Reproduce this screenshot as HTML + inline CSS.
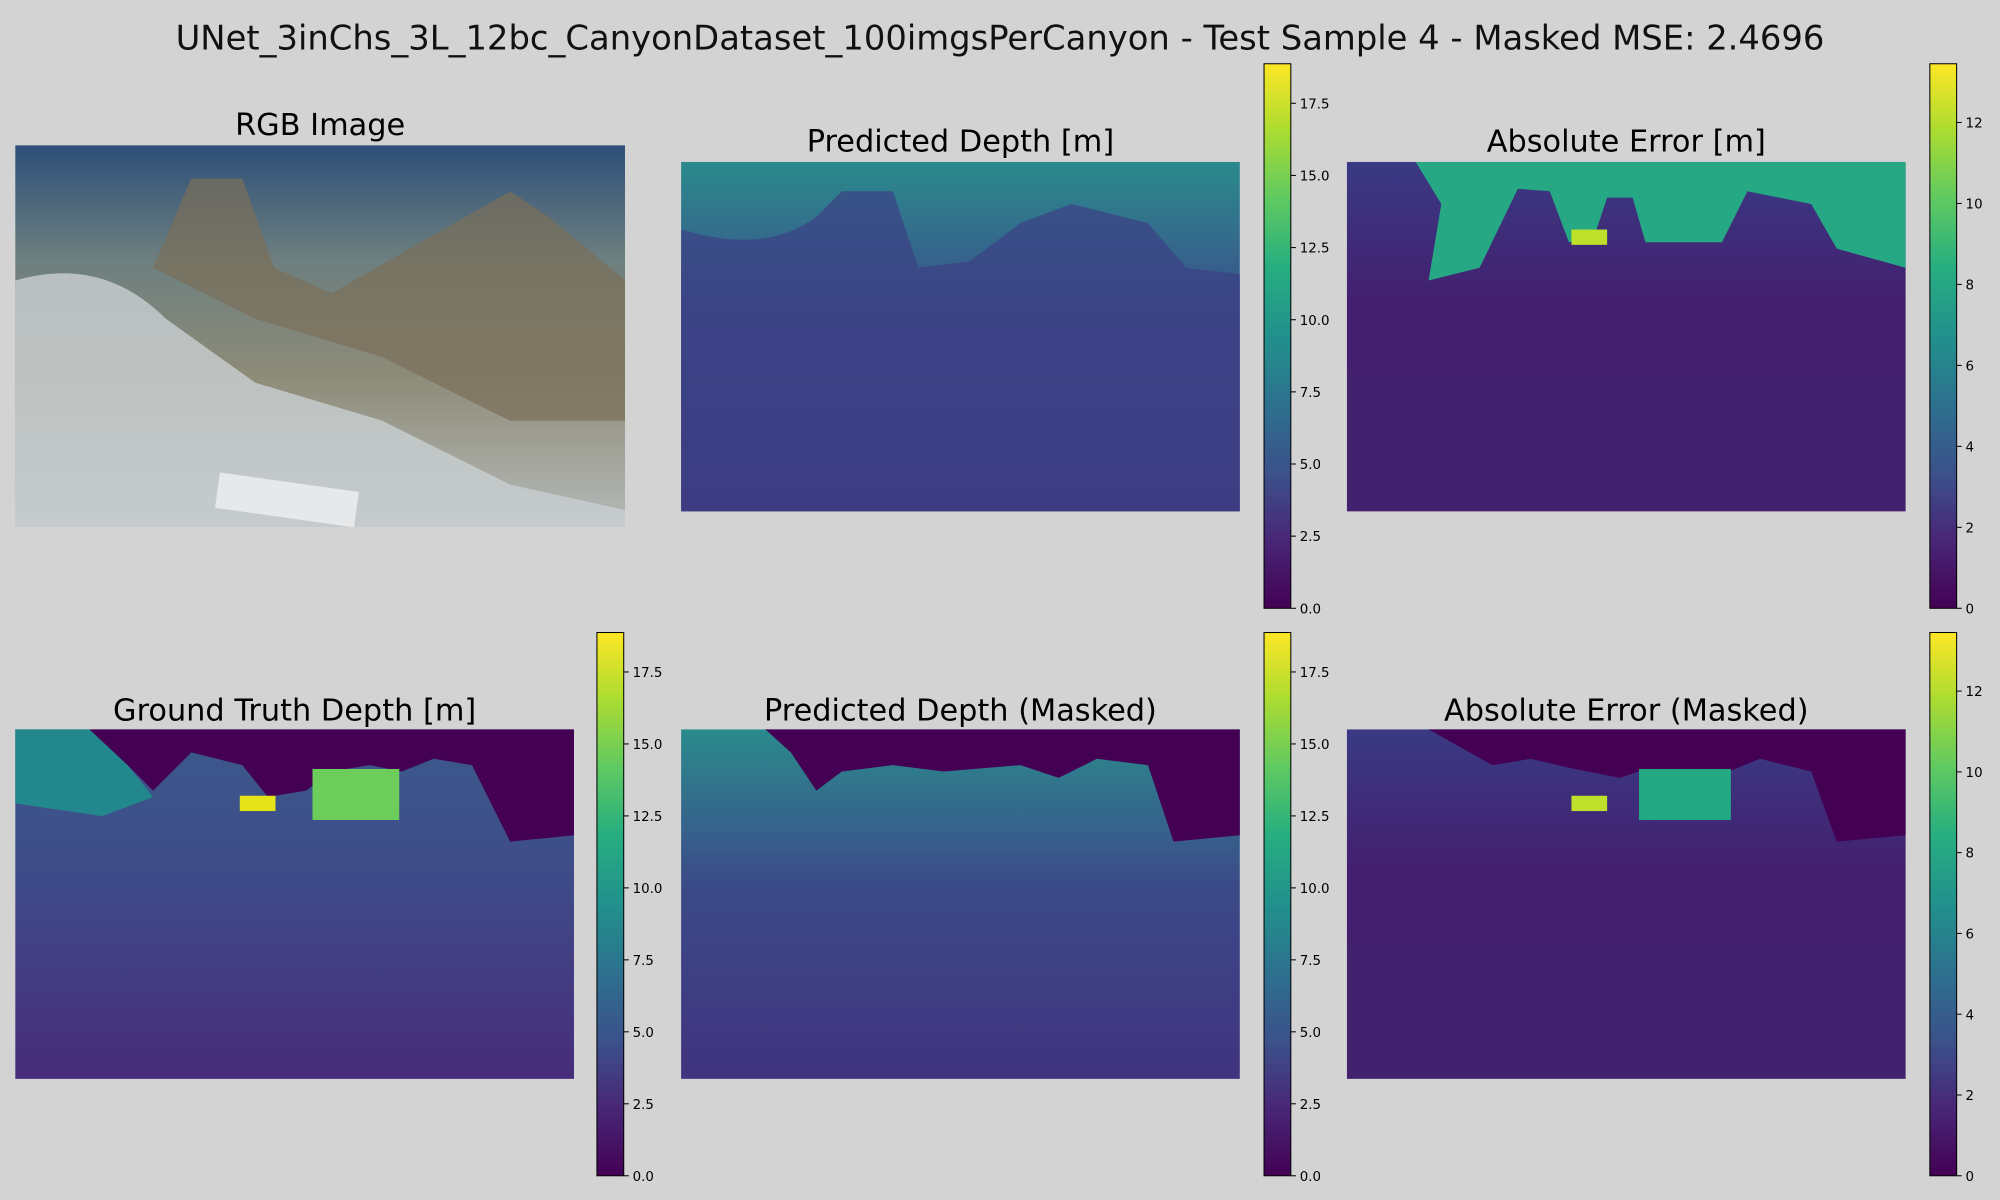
<!DOCTYPE html>
<html><head><meta charset="utf-8"><style>
html,body{margin:0;padding:0;background:#d3d3d3;width:2000px;height:1200px;overflow:hidden}
svg{display:block;font-family:"DejaVu Sans","Liberation Sans",sans-serif}
</style></head><body>
<svg id="fig" width="2000" height="1200" viewBox="0 0 1568 941" preserveAspectRatio="none">
<defs>
<linearGradient id="vir" x1="0" y1="1" x2="0" y2="0">
<stop offset="0" stop-color="#440154"/><stop offset="0.13" stop-color="#482878"/><stop offset="0.25" stop-color="#3b528b"/><stop offset="0.38" stop-color="#2c728e"/><stop offset="0.5" stop-color="#21918c"/><stop offset="0.63" stop-color="#28ae80"/><stop offset="0.75" stop-color="#5ec962"/><stop offset="0.88" stop-color="#addc30"/><stop offset="1" stop-color="#fde725"/></linearGradient>
<linearGradient id="rgbg" x1="0" y1="0" x2="0" y2="1"><stop offset="0" stop-color="#2d4f78"/><stop offset="0.3" stop-color="#6d7f7f"/><stop offset="0.6" stop-color="#8d8b78"/><stop offset="1" stop-color="#b5b9b8"/></linearGradient>
<linearGradient id="predg" x1="0" y1="0" x2="0" y2="1"><stop offset="0" stop-color="#2a8a8c"/><stop offset="0.25" stop-color="#35678c"/><stop offset="0.45" stop-color="#3b4a87"/><stop offset="1" stop-color="#41337f"/></linearGradient>
<linearGradient id="gtg" x1="0" y1="0" x2="0" y2="1"><stop offset="0" stop-color="#3b5a8c"/><stop offset="0.45" stop-color="#3f4a88"/><stop offset="1" stop-color="#472c7a"/></linearGradient>
<linearGradient id="errg" x1="0" y1="0" x2="0" y2="1"><stop offset="0" stop-color="#3a3a84"/><stop offset="0.4" stop-color="#43206f"/><stop offset="1" stop-color="#42226e"/></linearGradient>
</defs>
<text x="784" y="39" font-size="26.5" text-anchor="middle" fill="#111">UNet_3inChs_3L_12bc_CanyonDataset_100imgsPerCanyon - Test Sample 4 - Masked MSE: 2.4696</text>

<g>
<text x="251" y="106" font-size="23.8" text-anchor="middle">RGB Image</text>
<rect x="12" y="114" width="478" height="299" fill="url(#rgbg)"/>
<path d="M12 220 Q80 200 130 250 L200 300 L300 330 L400 380 L490 400 L490 413 L12 413Z" fill="#c9cfd2" opacity="0.8"/>
<path d="M120 210 L150 140 L190 140 L215 210 L260 230 L330 190 L400 150 L430 170 L490 220 L490 330 L400 330 L300 280 L200 250Z" fill="#7a6f5a" opacity="0.7"/>
<rect x="170" y="378" width="110" height="28" fill="#e6e8ea" transform="rotate(8 225 392)"/>
</g>

<g>
<text x="753" y="119" font-size="23.8" text-anchor="middle">Predicted Depth [m]</text>
<rect x="534" y="127" width="438" height="274" fill="url(#predg)"/>
<path d="M534 180 Q600 200 640 170 L660 150 L700 150 L720 210 L760 205 L800 175 L840 160 L900 175 L930 210 L972 215 L972 401 L534 401Z" fill="#3c4084" opacity="0.7"/>
</g>

<g>
<text x="1275" y="119" font-size="23.8" text-anchor="middle">Absolute Error [m]</text>
<rect x="1056" y="127" width="438" height="274" fill="url(#errg)"/>
<path d="M1110 127 L1494 127 L1494 210 L1440 195 L1420 160 L1370 150 L1350 190 L1290 190 L1280 155 L1260 155 L1250 185 L1230 190 L1215 150 L1190 148 L1160 210 L1120 220 L1130 160Z" fill="#27a884"/>
<rect x="1232" y="180" width="28" height="12" fill="#bfe02a"/>
</g>

<g>
<text x="231" y="565" font-size="23.8" text-anchor="middle">Ground Truth Depth [m]</text>
<rect x="12" y="572" width="438" height="274" fill="url(#gtg)"/>
<path d="M70 572 L450 572 L450 655 L400 660 L370 600 L340 595 L315 605 L290 600 L260 605 L240 620 L210 625 L190 600 L150 590 L120 620 L100 600Z" fill="#440154"/>
<path d="M12 572 L70 572 L100 600 L120 625 L80 640 L12 630Z" fill="#23888d"/>
<rect x="245" y="603" width="68" height="40" fill="#6ccd5a"/>
<rect x="188" y="624" width="28" height="12" fill="#e5e419"/>
</g>

<g>
<text x="753" y="565" font-size="23.8" text-anchor="middle">Predicted Depth (Masked)</text>
<rect x="534" y="572" width="438" height="274" fill="url(#predg)"/>
<path d="M600 572 L972 572 L972 655 L920 660 L900 600 L860 595 L830 610 L800 600 L740 605 L700 600 L660 605 L640 620 L620 590Z" fill="#440154"/>
</g>

<g>
<text x="1275" y="565" font-size="23.8" text-anchor="middle">Absolute Error (Masked)</text>
<rect x="1056" y="572" width="438" height="274" fill="url(#errg)"/>
<path d="M1120 572 L1494 572 L1494 655 L1440 660 L1420 605 L1380 595 L1355 605 L1290 603 L1270 610 L1230 602 L1200 595 L1170 600Z" fill="#440154"/>
<rect x="1285" y="603" width="72" height="40" fill="#23a983"/>
<rect x="1232" y="624" width="28" height="12" fill="#bfe02a"/>
</g>

<g id="cbs"></g>
</svg>
<script>
const depthTicks = [0, 2.5, 5.0, 7.5, 10.0, 12.5, 15.0, 17.5];
const depthLabels = ["0.0","2.5","5.0","7.5","10.0","12.5","15.0","17.5"];
const depthMax = 18.87;
const errTicks = [0, 2, 4, 6, 8, 10, 12];
const errLabels = ["0","2","4","6","8","10","12"];
const errMax = 13.45;
const NS = "http://www.w3.org/2000/svg";
const g = document.getElementById('cbs');
function cb(name, x, y0, y1, ticks, labels, vmax) {
  const grp = document.createElementNS(NS, 'g');
  
  
  const r = document.createElementNS(NS, 'rect');
  r.setAttribute('x', x); r.setAttribute('y', y0); r.setAttribute('width', 21); r.setAttribute('height', y1 - y0);
  r.setAttribute('fill', 'url(#vir)'); r.setAttribute('stroke', '#000'); r.setAttribute('stroke-width', '0.8');
  grp.appendChild(r);
  const yScale = v => y1 - (v / vmax) * (y1 - y0);
  ticks.forEach((t, i) => {
    const y = yScale(t);
    const l = document.createElementNS(NS, 'line');
    l.setAttribute('x1', x + 21); l.setAttribute('x2', x + 25); l.setAttribute('y1', y); l.setAttribute('y2', y);
    l.setAttribute('stroke', '#000'); l.setAttribute('stroke-width', '0.8');
    
    
    grp.appendChild(l);
    const tx = document.createElementNS(NS, 'text');
    tx.setAttribute('x', x + 28); tx.setAttribute('y', y + 4); tx.setAttribute('font-size', '10.5');
    tx.textContent = labels[i];
    
    
    grp.appendChild(tx);
  });
  g.appendChild(grp);
}
cb('predicted-depth-colorbar', 991, 50, 477, depthTicks, depthLabels, depthMax);
cb('absolute-error-colorbar', 1513, 50, 477, errTicks, errLabels, errMax);
cb('ground-truth-colorbar', 468, 496, 922, depthTicks, depthLabels, depthMax);
cb('predicted-depth-masked-colorbar', 991, 496, 922, depthTicks, depthLabels, depthMax);
cb('absolute-error-masked-colorbar', 1513, 496, 922, errTicks, errLabels, errMax);
</script>
</body></html>
